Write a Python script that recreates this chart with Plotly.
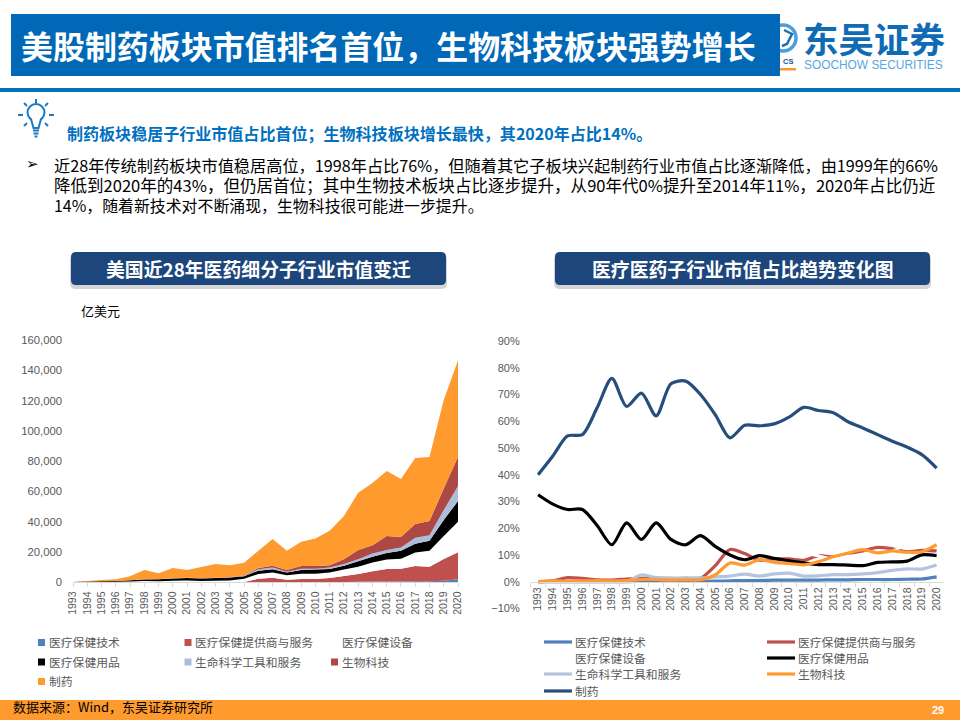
import plotly.graph_objects as go

years = list(range(1993, 2021))
year_labels = [str(y) for y in years]

cap_tech = [0, 0, 0, 0, 0, 0, 0, 19, 16, 10, 12, 11, 26, 60, 114, 84, 160, 174, 205, 263, 414, 472, 588, 546, 656, 744, 1000, 2000]
cap_provider = [0, 3, 22, 24, 28, 49, 60, 114, 105, 121, 145, 146, 100, 2340, 2886, 1616, 2040, 2026, 2695, 3937, 5086, 6828, 8212, 8454, 10144, 9556, 14400, 17800]
cap_equipment = [55, 210, 252, 330, 516, 753, 660, 808, 988, 717, 944, 1042, 2200, 3100, 3400, 2900, 3500, 3500, 3500, 4200, 4800, 5700, 6200, 6600, 8800, 10600, 15200, 20200]
cap_supplies = [65, 261, 405, 540, 840, 1118, 1320, 1501, 1782, 1596, 1670, 1926, 1700, 2200, 2200, 1800, 2400, 2700, 2400, 2600, 3600, 3900, 4400, 5300, 5900, 6600, 10500, 13700]
cap_tools = [0, 0, 0, 0, 0, 0, 6, 238, 122, 121, 169, 157, 240, 900, 1100, 600, 900, 600, 900, 1100, 1300, 2200, 1900, 2000, 4000, 3500, 6600, 9900]
cap_biotech = [0, 3, 3, 6, 16, 24, 24, 76, 65, 61, 85, 78, 330, 900, 1300, 1100, 1800, 1800, 1500, 3100, 6100, 5300, 9300, 7000, 9000, 9500, 14300, 19300]
cap_pharma = [80, 423, 818, 1100, 2600, 6156, 3930, 6697, 5022, 7474, 9075, 7840, 8250, 11400, 17600, 12800, 16000, 18200, 22900, 28600, 37900, 41100, 42900, 38300, 43500, 42200, 58300, 63800]

pct_tech = [0, 0, 0, 0, 0, 0, 0, 0.2, 0.2, 0.1, 0.1, 0.1, 0.2, 0.3, 0.4, 0.4, 0.6, 0.6, 0.6, 0.6, 0.7, 0.7, 0.8, 0.8, 0.8, 0.9, 1.0, 1.8]
pct_provider = [0, 0.3, 1.5, 1.2, 0.7, 0.6, 1.0, 1.2, 1.3, 1.2, 1.2, 1.3, 6.0, 12.0, 10.5, 8.0, 8.5, 8.5, 8.0, 9.7, 9.3, 10.5, 11.5, 12.8, 12.3, 11.2, 11.7, 11.5]
pct_equipment = [27.5, 23.4, 16.8, 16.5, 12.9, 9.3, 11.0, 8.5, 12.2, 7.1, 7.8, 9.3, 13.8, 14.8, 13.4, 13.3, 13.1, 11.6, 10.8, 9.6, 8.5, 9.5, 9.3, 10.0, 11.3, 14.1, 13.9, 14.5]
pct_supplies = [32.5, 29.0, 27.0, 27.0, 21.0, 13.8, 22.0, 15.8, 22.0, 15.8, 13.8, 17.2, 13.2, 10.0, 8.2, 9.7, 8.7, 7.8, 7.0, 6.4, 6.4, 6.2, 6.0, 7.2, 7.4, 7.7, 10.0, 9.7]
pct_tools = [0, 0, 0, 0, 0, 0, 0.1, 2.5, 1.5, 1.2, 1.4, 1.4, 1.8, 2.1, 2.8, 2.1, 2.9, 3.2, 2.1, 2.2, 2.6, 2.6, 2.9, 3.4, 4.2, 4.8, 4.7, 6.2]
pct_biotech = [0, 0.3, 0.2, 0.3, 0.4, 0.3, 0.4, 0.8, 0.8, 0.6, 0.7, 0.7, 2.5, 7.0, 6.2, 8.2, 7.2, 6.8, 6.3, 7.5, 9.3, 10.7, 12.0, 10.8, 11.5, 11.0, 11.2, 13.8]
pct_pharma = [40, 47, 54.5, 55, 65, 76, 65.5, 70.5, 62, 74, 75, 70, 62.5, 53.8, 58.5, 58.3, 59, 61.5, 65.2, 64, 63.2, 59.8, 57.5, 55, 52.5, 50.3, 47.5, 42.5]

names = ["医疗保健技术", "医疗保健提供商与服务", "医疗保健设备", "医疗保健用品", "生命科学工具和服务", "生物科技", "制药"]
area_colors = ["#4F81BD", "#C0504D", "#FFFFFF", "#000000", "#AABEDB", "#AD4844", "#FF9A2E"]
line_colors = ["#4F81BD", "#C0504D", "#FFFFFF", "#000000", "#B4C4DE", "#FF9A2E", "#264E7D"]

CJK = "Noto Sans CJK SC"
LAT = "Liberation Sans"
GREY = "#595959"
AXIS = "#D9D9D9"


def X(p):
    return p / 960


def Y(p):
    return 1 - p / 720


fig = go.Figure()
for name, vals, col in zip(names, [cap_tech, cap_provider, cap_equipment, cap_supplies, cap_tools, cap_biotech, cap_pharma], area_colors):
    fig.add_trace(go.Scatter(x=years, y=vals, name=name, stackgroup="cap", mode="none", fillcolor=col,
                             xaxis="x", yaxis="y", showlegend=False))
for name, vals, col in zip(names, [pct_tech, pct_provider, pct_equipment, pct_supplies, pct_tools, pct_biotech, pct_pharma], line_colors):
    fig.add_trace(go.Scatter(x=year_labels, y=vals, name=name, mode="lines",
                             line=dict(color=col, width=3.2, shape="spline", smoothing=0.8),
                             xaxis="x2", yaxis="y2", showlegend=False))

shapes = []
annotations = []


def rect(x0, y0, x1, y1, color, layer="below"):
    shapes.append(dict(type="rect", xref="paper", yref="paper", x0=X(x0), x1=X(x1), y0=Y(y0), y1=Y(y1),
                       fillcolor=color, line_width=0, layer=layer))


def path(points, color, width=1.5, fill=None, close=False):
    d = "M" + " L".join(f"{X(a):.5f},{Y(b):.5f}" for a, b in points) + (" Z" if close else "")
    shapes.append(dict(type="path", xref="paper", yref="paper", path=d, layer="below",
                       line=dict(color=color, width=width) if width else dict(width=0),
                       fillcolor=fill))


def rounded(x0, y0, x1, y1, r, color):
    d = (f"M{X(x0+r):.5f},{Y(y0):.5f} L{X(x1-r):.5f},{Y(y0):.5f} Q{X(x1):.5f},{Y(y0):.5f} {X(x1):.5f},{Y(y0+r):.5f} "
         f"L{X(x1):.5f},{Y(y1-r):.5f} Q{X(x1):.5f},{Y(y1):.5f} {X(x1-r):.5f},{Y(y1):.5f} "
         f"L{X(x0+r):.5f},{Y(y1):.5f} Q{X(x0):.5f},{Y(y1):.5f} {X(x0):.5f},{Y(y1-r):.5f} "
         f"L{X(x0):.5f},{Y(y0+r):.5f} Q{X(x0):.5f},{Y(y0):.5f} {X(x0+r):.5f},{Y(y0):.5f} Z")
    shapes.append(dict(type="path", xref="paper", yref="paper", path=d, fillcolor=color, line_width=0, layer="below"))


def text(px, py, s, size, color="#000000", bold=False, anchor="left", family=CJK):
    annotations.append(dict(xref="paper", yref="paper", x=X(px), y=Y(py), text=f"<b>{s}</b>" if bold else s,
                            showarrow=False, xanchor=anchor, yanchor="middle", borderpad=0,
                            font=dict(family=family, size=size, color=color)))


shapes.append(dict(type="circle", xref="paper", yref="paper", x0=X(770), x1=X(796), y0=Y(25), y1=Y(51),
                   fillcolor="#FFFFFF", line=dict(color="#4A9FDD", width=3.5), layer="below"))
path([(784, 30), (792, 34), (787, 44), (782, 46)], "#1F6FB5", width=2.5)
text(788, 61, "CS", 7.5, "#1A4E8A", True, "center", LAT)
rect(770, 68, 796, 70.5, "#F39A2B")
text(873.5, 37, "东吴证券", 35.5, "#0E6BB4", True, "center")
text(873.5, 65, "SOOCHOW SECURITIES", 11.9, "#5AA6DE", False, "center", LAT)

rect(11, 14, 780, 76, "#0068B7")
text(19.5, 45, "美股制药板块市值排名首位，生物科技板块强势增长", 31.95, "#FFFFFF", True)
rect(0, 88, 960, 92, "#0070C0")

ICON = "#1C79C0"
shapes.append(dict(type="circle", xref="paper", yref="paper", x0=X(27.5), x1=X(44.5), y0=Y(104), y1=Y(121),
                   line=dict(color=ICON, width=2), fillcolor="#FFFFFF", layer="below"))
path([(31, 119), (33.5, 128), (38.5, 128), (41, 119)], ICON, 2, "#FFFFFF")
for a, b, c, d in [(36, 99, 36, 103), (24, 103, 27, 106), (48, 103, 45, 106), (18, 115, 23, 115),
                   (49, 115, 54, 115), (24, 126, 27, 123), (48, 126, 45, 123)]:
    path([(a, b), (c, d)], ICON, 2)
for a, b, w in [(33, 130.5, 6), (33.5, 133.5, 5), (34.5, 136.5, 3)]:
    path([(a, b), (a + w, b)], ICON, 2)

text(65.5, 133, "<b>制药板块稳居子行业市值占比首位；生物科技板块增长最快，其2020年占比14%。</b>", 16.05, "#0070C0")
text(25, 164, "➢", 15, "#000000", family="DejaVu Sans")
text(53, 165, "近28年传统制药板块市值稳居高位，1998年占比76%，但随着其它子板块兴起制药行业市值占比逐渐降低，由1999年的66%", 16.2)
text(53, 185.5, "降低到2020年的43%，但仍居首位；其中生物技术板块占比逐步提升，从90年代0%提升至2014年11%，2020年占比仍近", 16.55)
text(53, 205, "14%，随着新技术对不断涌现，生物科技很可能进一步提升。", 15.9)

for x0, x1, label in [(71, 446, "美国近28年医药细分子行业市值变迁"), (555, 930, "医疗医药子行业市值占比趋势变化图")]:
    rounded(x0 - 1, 254, x1 + 1, 289, 6, "#D4D4D4")
    rounded(x0, 252, x1, 285, 5, "#1D467C")
    text((x0 + x1) / 2, 268.5, label, 18.85, "#FFFFFF", True, "center")

text(79.5, 310.5, "亿美元", 13, "#000000")

left_cols = [38, 184.5, 331]
left_rows = [642.5, 662, 681.5]
for i, (name, col) in enumerate(zip(names, area_colors)):
    x = left_cols[i % 3]
    y = left_rows[i // 3]
    rect(x, y - 3.5, x + 7, y + 3.5, col)
    text(x + 9.5, y - 1, name, 11.8, GREY)
right_cols = [544, 767]
right_rows = [642, 658, 674, 691]
for i, (name, col) in enumerate(zip(names, line_colors)):
    x = right_cols[i % 2]
    y = right_rows[i // 2]
    path([(x, y), (x + 28, y)], col, 3.2)
    text(x + 29.5, y - 1, name, 11.8, GREY)

rect(0, 700, 960, 720, "#FF9A2E")
text(12, 706.5, "数据来源：Wind，东吴证券研究所", 13, "#000000")
text(931, 710, "29", 11, "#FFFFFF", True, "left", LAT)

tick_font = dict(family=LAT, size=10.5, color=GREY)
fig.update_layout(
    width=960, height=720, margin=dict(l=0, r=0, t=0, b=0, pad=0, autoexpand=False),
    paper_bgcolor="#FFFFFF", plot_bgcolor="rgba(0,0,0,0)", showlegend=False,
    shapes=shapes, annotations=annotations,
    xaxis=dict(domain=[X(73), X(458)], range=[1993, 2020], tick0=1993, dtick=1, tickformat="d",
               tickangle=-90, tickfont=tick_font, showgrid=False, zeroline=False,
               showline=True, linecolor=AXIS, linewidth=1, ticks="outside", ticklen=4, tickcolor=AXIS,
               anchor="y"),
    yaxis=dict(domain=[Y(582.3), Y(340)], range=[0, 160000], dtick=20000, tickformat=",d",
               tickfont=dict(family=LAT, size=11.3, color=GREY), showgrid=False, zeroline=False,
               showline=False, ticks="", ticklabelstandoff=10, anchor="x"),
    xaxis2=dict(domain=[X(530.7), X(944)], type="category", range=[-0.5, 27.5], tickson="boundaries",
                tickangle=-90, tickfont=tick_font, showgrid=False, zeroline=False,
                showline=True, linecolor=AXIS, linewidth=1, ticks="outside", ticklen=4, tickcolor=AXIS,
                anchor="free", position=Y(582.3)),
    yaxis2=dict(domain=[Y(608.4), Y(341)], range=[-10, 90], dtick=10, ticksuffix="%",
                tickfont=dict(family=LAT, size=11, color=GREY), showgrid=False, zeroline=False,
                showline=False, ticks="", ticklabelstandoff=10, anchor="x2"),
)
fig.write_html("out.html", config=dict(displayModeBar=False),
               post_script="document.body.style.margin='0';document.body.style.overflow='hidden';")
